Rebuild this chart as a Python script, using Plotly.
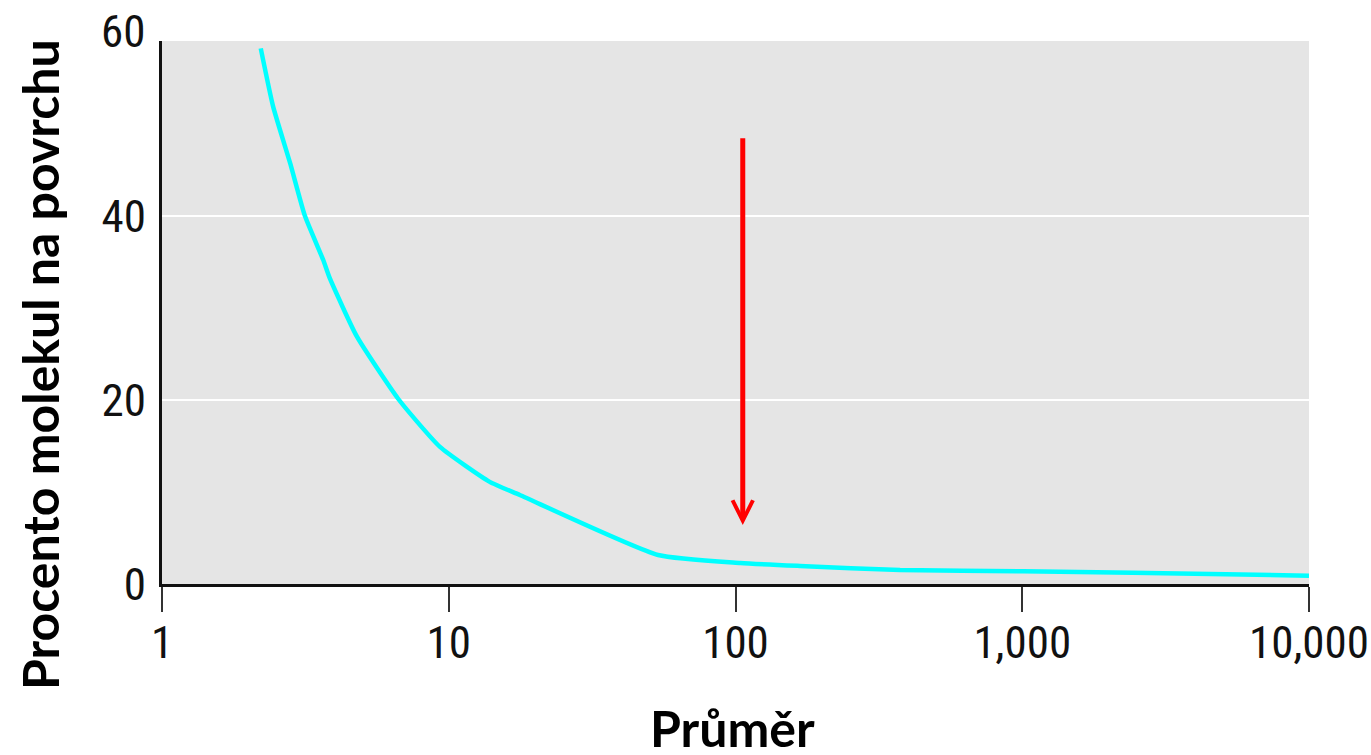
import math
import plotly.graph_objects as go

# Data
diameter = [2.21, 2.44, 2.8, 3.15, 3.65, 3.85, 4.78, 6.67, 9.32, 13.9, 17.7, 53.7, 104, 168, 375, 1006, 2430, 10000]
surface_pct = [58.2, 51.9, 45.7, 40.0, 35.2, 33.2, 26.9, 20.1, 14.9, 11.1, 9.67, 3.15, 2.28, 1.96, 1.52, 1.38, 1.23, 0.9]

x_tick_vals = [1, 10, 100, 1000, 10000]
x_tick_text = ["1", "10", "100", "1,000", "10,000"]
y_tick_vals = [0, 20, 40]
y_tick_text = ["0", "20", "40"]
y_top_label = 60
y_range = [0, 59]

arrow_x = 106
arrow_y_start = 48.6
arrow_y_end = 6.4

x_title = "Průměr"
y_title = "Procento molekul na povrchu"

tick_font = dict(family="Noto Sans Condensed, Roboto Condensed, DejaVu Sans Condensed, Liberation Sans Narrow, Roboto, sans-serif",
                 size=45, color="#111111")
title_font = dict(family="Lato, Open Sans, sans-serif", size=50, color="#000000")

fig = go.Figure()
fig.add_trace(go.Scatter(
    x=diameter, y=surface_pct, mode="lines",
    line=dict(color="#00FFFF", width=4.5, shape="spline", smoothing=0.5),
    hoverinfo="x+y", showlegend=False,
))

fig.update_layout(
    width=1371, height=755,
    margin=dict(l=162, r=62, t=41, b=171, autoexpand=False),
    paper_bgcolor="white",
    plot_bgcolor="#e5e5e5",
    showlegend=False,
)

fig.update_xaxes(
    type="log",
    range=[0, 4],
    tickvals=x_tick_vals, ticktext=x_tick_text,
    tickfont=tick_font,
    ticks="outside", ticklen=25, tickwidth=2, tickcolor="#333333",
    ticklabeloverflow="allow", ticklabelstandoff=-8,
    automargin=False,
    showline=True, linecolor="#111111", linewidth=3,
    showgrid=False, zeroline=False,
)
fig.update_yaxes(
    range=y_range,
    tickvals=y_tick_vals, ticktext=y_tick_text,
    tickfont=tick_font,
    ticks="", ticklabelstandoff=4,
    automargin=False,
    showline=True, linecolor="#111111", linewidth=3,
    showgrid=True, gridcolor="white", gridwidth=2,
    zeroline=False,
)

# "60" label at the top of the y axis (just above the plotted range)
fig.add_annotation(
    x=0, xref="paper", y=(y_top_label - y_range[0]) / (y_range[1] - y_range[0]), yref="paper",
    text=str(y_top_label), showarrow=False,
    xanchor="right", yanchor="middle", xshift=-15,
    font=tick_font,
)

# Red arrow
fig.add_annotation(
    x=math.log10(arrow_x), y=arrow_y_end, xref="x", yref="y",
    ax=math.log10(arrow_x), ay=arrow_y_start, axref="x", ayref="y",
    text="", showarrow=True,
    arrowhead=5, arrowsize=0.8, arrowwidth=5, arrowcolor="#FF0000",
)

# Axis titles
fig.add_annotation(
    x=0.4978, y=-0.265, xref="paper", yref="paper",
    text="<b>%s</b>" % x_title, showarrow=False,
    xanchor="center", yanchor="middle", font=title_font,
)
fig.add_annotation(
    x=-0.1064, y=0.405, xref="paper", yref="paper",
    text="<b>%s</b>" % y_title, showarrow=False, textangle=-90,
    xanchor="center", yanchor="middle", font=title_font,
)

# remove the default 8px page margin so the figure fills the window exactly
fig.write_html(
    "out.html",
    config={"displayModeBar": False},
    post_script="document.body.style.margin='0';document.body.style.overflow='hidden';",
)
